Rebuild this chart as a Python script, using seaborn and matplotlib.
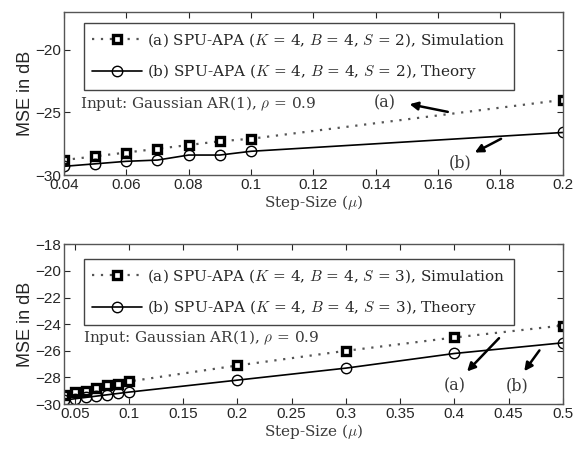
import numpy as np
import pandas as pd
import seaborn as sns
import matplotlib.pyplot as plt

# step sizes and MSE (dB)
mu_top = [0.04, 0.05, 0.06, 0.07, 0.08, 0.09, 0.1, 0.2]
sim_top = [-28.8, -28.5, -28.2, -27.9, -27.6, -27.3, -27.1, -24.0]
theory_top = [-29.3, -29.1, -28.9, -28.8, -28.4, -28.4, -28.1, -26.6]

mu_bot = [0.04, 0.05, 0.06, 0.07, 0.08, 0.09, 0.1, 0.2, 0.3, 0.4, 0.5]
sim_bot = [-29.3, -29.1, -29.0, -28.8, -28.6, -28.5, -28.3, -27.1, -26.0, -25.0, -24.1]
theory_bot = [-29.7, -29.6, -29.5, -29.4, -29.3, -29.2, -29.1, -28.2, -27.3, -26.2, -25.4]

sns.set_style("ticks")
plt.rcParams["font.family"] = ["Liberation Sans", "DejaVu Sans"]
plt.rcParams["mathtext.fontset"] = "cm"
plt.rcParams["xtick.direction"] = "in"
plt.rcParams["ytick.direction"] = "in"

SERIF = "DejaVu Serif"
SANS = "Liberation Sans"
TXT = "#3a3a3a"

fig = plt.figure(figsize=(5.76, 4.49), dpi=100)
ax1 = fig.add_axes([0.111, 0.610, 0.866, 0.363])
ax2 = fig.add_axes([0.111, 0.100, 0.866, 0.356])


def draw(ax, mu, sim, theory, s):
    df = pd.DataFrame({"mu": mu, "sim": sim, "theory": theory})
    sns.lineplot(data=df, x="mu", y="sim", ax=ax, color="#555555", linestyle=(0, (1, 3)), lw=1.6,
                 marker="s", markersize=6, mfc="white", mec="k", mew=2.4,
                 label=r"(a) SPU-APA ($K$ = 4, $B$ = 4, $S$ = %d), Simulation" % s)
    sns.lineplot(data=df, x="mu", y="theory", ax=ax, color="k", linestyle="-", lw=1.2,
                 marker="o", markersize=7.5, mfc="none", mec="k", mew=1.0,
                 label=r"(b) SPU-APA ($K$ = 4, $B$ = 4, $S$ = %d), Theory" % s)
    ax.set_xlabel(r"Step-Size ($\mu$)", family=SERIF, fontsize=11, color=TXT, labelpad=1)
    ax.set_ylabel("MSE in dB", family=SANS, fontsize=13, labelpad=1)
    ax.tick_params(top=True, right=True, labelsize=11, length=4, pad=2, labelfontfamily=SANS)
    for sp in ax.spines.values():
        sp.set_color("#555555")
        sp.set_linewidth(1.0)


def legend(ax, top):
    ax.legend(loc="upper left", bbox_to_anchor=(0.024, top), frameon=True, fancybox=False,
              prop={"family": SERIF, "size": 11}, handlelength=3.3, borderpad=0.55,
              labelspacing=0.85, edgecolor="#444444", handletextpad=0.3, framealpha=1)


arrow = dict(arrowstyle="-|>", lw=1.8, color="k", mutation_scale=12)

draw(ax1, mu_top, sim_top, theory_top, 2)
ax1.set_xlim(0.04, 0.2)
ax1.set_ylim(-30, -17)
ax1.set_xticks(np.arange(0.04, 0.201, 0.02))
ax1.set_xticklabels(["0.04", "0.06", "0.08", "0.1", "0.12", "0.14", "0.16", "0.18", "0.2"])
ax1.set_yticks([-30, -25, -20])
legend(ax1, 0.98)
ax1.text(0.045, -24.3, r"Input: Gaussian AR(1), $\rho$ = 0.9", family=SERIF, fontsize=11,
         color=TXT, va="center")
ax1.text(0.143, -24.2, "(a)", family=SERIF, fontsize=11.5, color=TXT, va="center", ha="center")
ax1.annotate("", xy=(0.150, -24.3), xytext=(0.164, -25.0), arrowprops=arrow)
ax1.text(0.167, -29.0, "(b)", family=SERIF, fontsize=11.5, color=TXT, va="center", ha="center")
ax1.annotate("", xy=(0.171, -28.3), xytext=(0.181, -27.0), arrowprops=arrow)

draw(ax2, mu_bot, sim_bot, theory_bot, 3)
ax2.set_xlim(0.04, 0.5)
ax2.set_ylim(-30, -18)
ax2.set_xticks(np.arange(0.05, 0.501, 0.05))
ax2.set_xticklabels(["0.05", "0.1", "0.15", "0.2", "0.25", "0.3", "0.35", "0.4", "0.45", "0.5"])
ax2.set_yticks(np.arange(-30, -17, 2))
legend(ax2, 0.956)
ax2.text(0.0575, -25.0, r"Input: Gaussian AR(1), $\rho$ = 0.9", family=SERIF, fontsize=11,
         color=TXT, va="center")
ax2.text(0.400, -28.6, "(a)", family=SERIF, fontsize=11.5, color=TXT, va="center", ha="center")
ax2.annotate("", xy=(0.410, -27.7), xytext=(0.443, -24.9), arrowprops=arrow)
ax2.text(0.458, -28.6, "(b)", family=SERIF, fontsize=11.5, color=TXT, va="center", ha="center")
ax2.annotate("", xy=(0.463, -27.7), xytext=(0.480, -25.8), arrowprops=arrow)

fig.savefig("out.png", dpi=100)
